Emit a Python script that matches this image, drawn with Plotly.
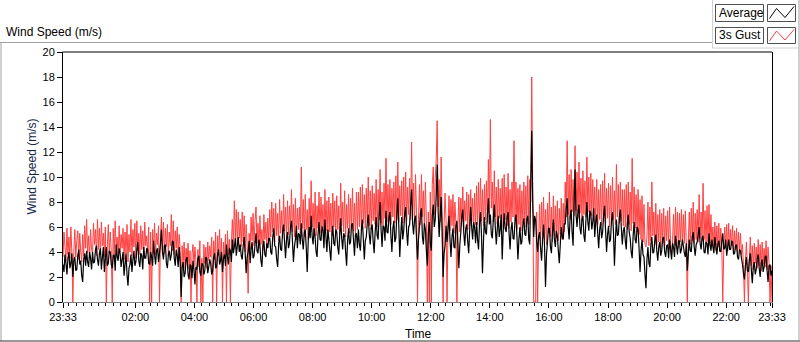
import plotly.graph_objects as go
import pandas as pd

# ---------------- data (2-minute samples, 23:33 -> 23:33 next day) ----------------
sample_start = "2015-06-01 23:33"
sample_step = "2min"

avg_speed = [
    3.0, 2.4, 3.8, 3.1, 2.2, 3.5, 4.0, 2.7, 3.1, 3.9, 2.0, 3.3, 3.6, 2.5, 2.6, 3.7, 4.2, 3.0, 3.3, 2.1, 1.6, 3.4, 3.9, 2.9, 4.1, 3.2, 2.8, 4.0, 3.5, 2.6,
    4.0, 3.1, 3.2, 4.2, 4.5, 3.4, 2.9, 3.9, 4.3, 2.6, 3.6, 4.4, 2.4, 3.5, 4.4, 2.9, 3.1, 4.1, 4.0, 3.0, 2.7, 3.7, 3.8, 2.5, 4.6, 3.6, 3.3, 4.3, 3.9, 2.8,
    3.4, 4.0, 2.1, 3.0, 3.9, 2.2, 1.3, 2.7, 3.0, 3.8, 2.4, 3.4, 4.1, 2.9, 3.2, 4.2, 4.8, 3.3, 2.8, 3.9, 3.7, 2.6, 4.4, 3.5, 3.5, 4.3, 4.2, 3.1, 3.0, 4.0,
    3.6, 2.9, 4.9, 3.8, 3.0, 4.1, 4.3, 3.2, 3.9, 4.7, 5.8, 4.0, 3.4, 4.5, 4.6, 3.1, 2.7, 3.8, 4.1, 3.3, 3.8, 4.9, 4.8, 3.5, 2.9, 4.2, 3.7, 2.8, 4.4, 3.2,
    0.4, 2.8, 3.2, 2.0, 2.3, 3.4, 3.6, 2.2, 1.8, 3.0, 2.9, 1.9, 3.3, 2.6, 1.4, 2.8, 2.6, 3.5, 3.7, 2.4, 2.1, 3.1, 3.0, 2.2, 2.5, 3.6, 3.5, 2.3, 2.8, 3.4,
    3.1, 2.2, 2.5, 3.6, 3.9, 2.7, 2.8, 3.8, 4.2, 3.0, 3.3, 4.0, 2.4, 3.5, 3.8, 2.9, 4.6, 3.6, 3.0, 4.3, 4.1, 3.2, 5.0, 3.9, 4.4, 5.1, 3.7, 4.5, 5.2, 4.0,
    4.6, 3.7, 3.4, 4.5, 5.2, 3.9, 2.3, 3.6, 4.0, 4.9, 3.1, 4.2, 4.8, 3.5, 3.7, 4.6, 5.5, 4.1, 3.9, 5.0, 4.5, 3.3, 2.8, 4.4, 4.9, 3.8, 3.6, 4.7, 4.3, 5.1,
    5.1, 4.0, 3.8, 5.2, 5.9, 4.5, 4.4, 3.4, 2.8, 4.6, 5.3, 4.2, 4.1, 5.6, 6.2, 4.8, 3.5, 5.0, 5.6, 4.3, 4.7, 6.0, 6.5, 4.9, 3.2, 4.4, 5.0, 6.1, 4.3, 5.5,
    5.4, 4.6, 6.3, 5.0, 4.2, 5.5, 5.8, 4.4, 2.4, 4.8, 6.0, 5.1, 6.9, 5.3, 4.6, 5.9, 5.2, 4.0, 3.6, 5.4, 6.4, 5.0, 4.9, 6.1, 5.7, 4.3, 6.6, 5.2, 4.0, 5.8,
    5.0, 4.1, 3.3, 5.2, 6.1, 4.7, 4.5, 5.8, 5.6, 4.4, 3.8, 5.3, 6.7, 5.1, 4.2, 5.5, 5.3, 4.0, 2.9, 4.9, 5.9, 4.6, 4.8, 6.2, 6.3, 5.0, 3.7, 5.4, 5.5, 4.3,
    5.8, 4.6, 4.1, 5.7, 6.6, 5.0, 3.4, 4.9, 5.2, 6.3, 7.0, 5.4, 4.6, 5.9, 6.2, 4.8, 3.9, 5.6, 6.8, 5.3, 5.0, 6.9, 8.0, 5.8, 4.4, 6.1, 6.0, 4.9, 7.3, 5.6,
    5.5, 6.8, 7.2, 5.3, 4.0, 5.9, 6.5, 4.8, 5.1, 7.0, 8.3, 6.1, 3.6, 5.4, 6.8, 5.0, 5.7, 7.1, 7.6, 5.6, 4.5, 6.0, 6.2, 7.8, 9.0, 6.3, 5.4, 6.6, 6.9, 5.1,
    3.4, 5.0, 6.0, 7.1, 7.5, 5.2, 4.6, 6.3, 5.8, 4.1, 2.9, 5.5, 6.4, 4.7, 4.1, 6.9, 7.8, 6.0, 6.6, 8.5, 11.0, 7.2, 5.2, 6.8, 8.4, 5.6, 2.0, 3.9, 4.5, 6.1,
    4.8, 5.9, 6.9, 5.0, 3.6, 5.2, 5.9, 4.4, 4.3, 6.1, 6.5, 4.7, 2.7, 4.6, 5.6, 6.8, 7.4, 5.5, 4.5, 5.9, 6.2, 4.8, 3.9, 5.8, 7.6, 6.0, 5.0, 6.4, 6.0, 4.7,
    6.4, 5.0, 4.2, 6.3, 7.2, 5.3, 2.3, 4.9, 6.8, 5.6, 5.4, 7.0, 8.3, 6.2, 7.0, 5.4, 5.1, 6.6, 7.8, 6.0, 4.6, 5.8, 6.9, 5.2, 5.8, 7.0, 3.4, 5.6, 7.1, 5.9,
    5.6, 6.8, 7.2, 5.5, 4.2, 5.8, 6.4, 5.1, 5.0, 6.5, 7.0, 5.2, 3.4, 5.0, 6.0, 4.6, 4.8, 6.2, 6.7, 5.4, 5.3, 6.6, 6.9, 5.0, 4.6, 9.5, 13.7, 8.0, 5.2, 6.9,
    6.5, 4.9, 4.0, 5.2, 5.6, 4.3, 3.3, 5.0, 6.2, 4.5, 1.2, 3.8, 4.8, 5.9, 5.9, 4.4, 3.9, 5.5, 6.6, 5.0, 4.4, 5.7, 5.3, 4.1, 3.1, 4.6, 6.0, 5.2, 5.0, 6.3,
    6.2, 7.5, 8.3, 6.0, 5.0, 6.8, 7.4, 5.6, 4.5, 7.9, 10.6, 7.0, 6.0, 7.2, 7.8, 5.9, 5.4, 6.6, 6.9, 5.3, 4.8, 6.5, 8.0, 6.4, 5.7, 7.3, 7.1, 5.8, 6.4, 7.5,
    5.2, 6.4, 7.0, 5.5, 4.3, 5.8, 6.4, 5.1, 5.6, 6.9, 7.7, 5.7, 4.0, 5.4, 6.1, 4.8, 5.0, 6.5, 7.2, 5.6, 2.9, 5.0, 6.6, 5.3, 5.4, 6.8, 7.4, 5.9, 4.6, 5.7,
    6.0, 4.9, 4.2, 6.1, 7.0, 5.6, 5.1, 4.0, 3.5, 5.3, 6.4, 5.0, 4.7, 6.0, 5.8, 4.3, 2.4, 4.1, 5.0, 3.8, 3.6, 2.2, 1.1, 3.4, 4.4, 3.1, 2.8, 4.6, 5.2, 3.9,
    4.0, 4.9, 5.4, 4.1, 3.3, 4.4, 4.8, 3.7, 4.1, 5.1, 5.2, 4.0, 3.6, 4.5, 4.6, 3.5, 5.0, 4.2, 3.4, 4.7, 4.4, 3.6, 5.3, 4.5, 3.8, 4.9, 4.9, 3.9, 4.2, 5.0,
    4.5, 3.9, 3.6, 4.7, 2.5, 3.8, 5.0, 4.1, 4.0, 5.2, 5.6, 4.4, 3.7, 4.6, 4.8, 5.4, 6.0, 4.7, 4.2, 5.1, 5.3, 4.0, 3.9, 4.8, 4.7, 3.8, 5.5, 4.6, 4.1, 5.0,
    4.4, 3.9, 5.2, 4.5, 3.8, 4.6, 4.9, 4.1, 4.0, 4.8, 5.5, 4.2, 4.3, 5.0, 3.7, 4.4, 5.0, 4.2, 4.2, 4.9, 4.8, 3.8, 3.9, 4.5, 4.6, 3.6, 3.4, 4.2, 4.1, 3.5,
    3.0, 2.3, 1.8, 2.9, 3.6, 2.5, 2.4, 3.4, 3.9, 2.6, 1.5, 2.8, 3.2, 2.2, 2.6, 3.5, 3.8, 2.7, 2.0, 3.1, 3.4, 2.4, 2.8, 3.6, 3.7, 2.5, 1.6, 2.9, 3.0, 2.1, 2.5,
]

gust_speed = [
    3.6, 5.6, 4.4, 3.3, 5.9, 3.8, 5.2, 3.5, 6.0, 3.9, 0.0, 4.1, 5.8, 3.6, 4.9, 5.7, 3.4, 5.5, 4.0, 3.2, 5.4, 3.7, 6.1, 4.3, 6.6, 3.9, 5.3, 3.5, 5.8, 4.2,
    3.9, 6.3, 4.6, 5.8, 3.7, 6.6, 4.2, 5.9, 3.8, 6.4, 4.5, 5.5, 3.6, 6.0, 0.0, 4.4, 6.2, 3.9, 5.6, 4.1, 0.0, 5.9, 3.8, 6.5, 4.3, 5.2, 3.5, 6.1, 4.0, 5.4,
    4.3, 5.9, 3.4, 5.6, 3.9, 6.2, 3.2, 5.4, 4.0, 6.6, 3.7, 5.8, 4.4, 6.3, 3.5, 6.5, 4.1, 5.5, 3.8, 6.1, 4.2, 5.7, 3.6, 6.4, 4.5, 5.3, 3.9, 6.0, 0.0, 5.6,
    0.0, 5.8, 4.2, 6.3, 3.8, 5.5, 4.6, 6.1, 0.0, 5.2, 6.8, 4.0, 6.4, 3.9, 5.9, 4.4, 6.2, 3.7, 5.6, 4.5, 7.0, 4.1, 6.5, 3.8, 5.7, 4.3, 6.0, 3.6, 5.4, 4.2,
    0.0, 4.5, 3.0, 4.8, 2.7, 4.3, 3.4, 4.7, 2.6, 4.1, 0.0, 3.8, 4.6, 2.9, 4.4, 3.2, 0.0, 4.2, 2.8, 4.9, 0.0, 3.5, 0.0, 4.6, 3.1, 4.4, 2.7, 4.8, 3.3, 4.5,
    3.6, 5.2, 0.0, 4.9, 3.4, 5.6, 0.0, 5.3, 3.7, 5.8, 3.3, 5.1, 0.0, 4.8, 3.5, 5.4, 0.0, 5.7, 3.8, 5.0, 0.0, 4.7, 6.6, 4.4, 8.1, 5.0, 7.4, 4.6, 7.2, 5.1,
    6.6, 4.4, 7.2, 4.8, 6.9, 4.0, 6.2, 4.6, 0.7, 5.5, 4.2, 6.8, 4.9, 7.1, 4.5, 6.5, 7.6, 4.7, 6.3, 4.3, 6.9, 4.6, 5.8, 4.1, 7.0, 5.0, 6.4, 4.4, 6.7, 4.8,
    7.4, 5.2, 8.0, 5.6, 7.5, 4.8, 7.9, 5.3, 7.1, 4.9, 8.2, 5.5, 7.3, 5.1, 8.6, 5.7, 7.6, 5.0, 8.1, 5.4, 7.7, 5.9, 9.0, 5.6, 7.8, 5.2, 8.3, 5.0, 7.5, 5.8,
    7.6, 5.5, 10.8, 5.9, 8.2, 5.2, 8.6, 5.8, 7.4, 5.0, 8.3, 5.6, 9.7, 6.0, 7.9, 5.4, 8.8, 5.3, 7.7, 5.9, 8.8, 5.5, 8.4, 6.1, 7.8, 5.2, 9.0, 5.7, 8.1, 5.5,
    8.4, 5.6, 7.9, 5.3, 8.7, 6.0, 8.1, 5.5, 8.5, 5.8, 7.7, 5.4, 9.5, 6.1, 8.0, 5.6, 8.9, 5.2, 7.8, 5.9, 8.6, 5.5, 8.3, 6.0, 9.1, 5.7, 7.9, 5.4, 8.8, 5.8,
    8.8, 6.0, 9.2, 5.7, 9.4, 6.3, 8.6, 5.9, 9.1, 6.4, 10.0, 6.1, 8.9, 5.8, 9.3, 6.5, 8.7, 6.2, 9.8, 6.0, 9.0, 6.6, 10.6, 6.3, 8.8, 6.1, 9.5, 6.7, 11.5, 6.4,
    9.4, 6.5, 9.8, 6.2, 9.1, 6.8, 9.6, 6.3, 10.1, 6.6, 11.2, 6.4, 9.3, 6.9, 9.7, 6.3, 10.0, 6.7, 10.4, 6.5, 9.2, 7.0, 9.9, 6.6, 12.8, 6.8, 9.5, 6.4, 10.2, 7.1,
    0.0, 6.6, 9.4, 6.2, 10.2, 6.8, 8.9, 6.0, 9.6, 6.5, 0.0, 7.2, 0.0, 8.8, 0.0, 9.4, 10.8, 7.0, 9.9, 11.3, 14.5, 7.6, 9.8, 6.4, 11.6, 7.0, 0.0, 6.3, 8.7, 6.5,
    0.0, 6.0, 8.5, 5.7, 8.2, 6.1, 8.6, 5.5, 8.0, 6.3, 0.0, 6.2, 8.4, 5.6, 8.3, 6.4, 9.2, 5.9, 8.1, 6.5, 8.8, 5.8, 8.6, 6.1, 9.0, 6.4, 8.3, 6.0, 8.7, 6.2,
    9.3, 6.2, 9.6, 6.0, 9.9, 6.5, 9.0, 6.1, 9.4, 6.6, 9.7, 6.3, 11.4, 7.0, 14.6, 7.5, 9.6, 6.4, 10.5, 6.8, 9.2, 6.2, 9.8, 6.7, 9.1, 6.3, 9.9, 6.0, 10.2, 6.6,
    9.2, 6.1, 10.3, 5.9, 9.0, 6.4, 9.6, 6.8, 12.9, 6.6, 9.6, 5.8, 9.1, 6.2, 9.4, 5.7, 8.9, 6.3, 9.6, 6.0, 9.3, 6.5, 10.1, 6.2, 9.8, 8.0, 18.0, 9.5, 0.0, 0.0,
    0.0, 7.2, 0.0, 5.0, 7.8, 4.9, 8.0, 5.4, 8.4, 5.0, 7.4, 4.6, 7.9, 5.5, 8.8, 5.2, 7.6, 4.8, 8.5, 5.3, 7.7, 5.1, 8.1, 4.9, 7.5, 5.4, 8.3, 5.0, 7.9, 5.6,
    9.6, 6.8, 12.9, 7.0, 10.2, 6.6, 10.6, 7.2, 9.8, 6.9, 12.5, 7.3, 10.4, 6.7, 11.2, 7.1, 9.9, 6.5, 10.5, 7.0, 9.7, 6.8, 11.6, 7.2, 10.0, 6.6, 10.3, 6.9, 9.8, 7.1,
    9.2, 6.4, 9.8, 6.2, 9.0, 6.6, 9.4, 6.1, 9.7, 6.5, 10.3, 6.3, 9.1, 6.7, 9.5, 6.0, 9.3, 6.4, 10.0, 6.6, 8.9, 6.2, 11.0, 6.8, 9.4, 6.3, 9.6, 6.5, 9.0, 6.1,
    9.0, 6.0, 9.4, 5.8, 9.6, 6.2, 8.8, 5.7, 11.5, 6.3, 9.2, 5.9, 8.6, 5.6, 9.0, 5.4, 8.2, 5.0, 8.5, 4.8, 7.8, 4.6, 4.4, 5.2, 8.0, 4.5, 7.6, 4.9, 9.6, 5.3,
    7.2, 4.6, 7.9, 4.5, 7.0, 4.8, 7.4, 4.3, 7.1, 4.7, 7.5, 4.5, 6.9, 4.9, 7.3, 4.4, 7.6, 4.6, 3.6, 4.8, 7.0, 4.5, 7.6, 4.7, 7.2, 4.3, 7.1, 4.8, 7.4, 4.6,
    7.0, 4.7, 7.3, 4.5, 0.0, 4.8, 7.2, 4.6, 7.5, 4.9, 8.0, 4.7, 7.1, 5.0, 7.4, 4.8, 8.6, 5.1, 7.2, 4.9, 9.5, 5.0, 7.3, 4.6, 7.7, 4.8, 7.8, 4.5, 7.0, 4.7,
    6.0, 4.3, 6.4, 4.1, 6.1, 4.4, 6.3, 4.0, 5.9, 4.5, 0.0, 4.2, 6.0, 4.4, 6.2, 4.1, 6.3, 4.3, 5.8, 4.5, 6.1, 4.0, 5.7, 4.2, 5.9, 3.9, 5.6, 4.1, 5.5, 3.8,
    4.6, 3.0, 0.0, 3.2, 4.8, 2.8, 0.0, 3.3, 5.2, 2.9, 4.5, 2.6, 4.7, 3.1, 4.4, 2.7, 5.0, 2.9, 4.6, 2.5, 4.8, 3.0, 4.3, 2.8, 4.9, 2.6, 4.4, 3.1, 0.0, 2.9, 0.0,
]

tick_times = ["2015-06-01 23:33", "2015-06-02 02:00", "2015-06-02 04:00", "2015-06-02 06:00",
              "2015-06-02 08:00", "2015-06-02 10:00", "2015-06-02 12:00", "2015-06-02 14:00",
              "2015-06-02 16:00", "2015-06-02 18:00", "2015-06-02 20:00", "2015-06-02 22:00",
              "2015-06-02 23:33"]
tick_labels = ["23:33", "02:00", "04:00", "06:00", "08:00", "10:00", "12:00", "14:00",
               "16:00", "18:00", "20:00", "22:00", "23:33"]
y_ticks = [0, 2, 4, 6, 8, 10, 12, 14, 16, 18, 20]
series_names = ["Average", "3s Gust"]

avg_times = pd.date_range(sample_start, periods=len(avg_speed), freq=sample_step)
gust_times = pd.date_range(sample_start, periods=len(gust_speed), freq=sample_step)

# ---------------- layout geometry (pixels) ----------------
W, H = 800, 342
PL, PR, PT, PB = 63, 772, 52, 302   # plot area in pixels


def fx(px):
    return (px - PL) / (PR - PL)


def fy(py):
    return (PB - py) / (PB - PT)


GUST_RED = "#ff4040"

fig = go.Figure()
fig.add_trace(go.Scatter(x=gust_times, y=gust_speed, mode="lines", name=series_names[1],
                         line=dict(color=GUST_RED, width=1, simplify=False),
                         showlegend=False, hoverinfo="skip"))
fig.add_trace(go.Scatter(x=avg_times, y=avg_speed, mode="lines", name=series_names[0],
                         line=dict(color="black", width=1.2, simplify=False),
                         showlegend=False, hoverinfo="skip"))

shapes = []


def pline(x0, y0, x1, y1, color, width=1):
    shapes.append(dict(type="line", xref="paper", yref="paper",
                       x0=fx(x0), y0=fy(y0), x1=fx(x1), y1=fy(y1),
                       line=dict(color=color, width=width), layer="above"))


def prect(x0, y0, x1, y1, color, fill="white"):
    shapes.append(dict(type="rect", xref="paper", yref="paper",
                       x0=fx(x0), y0=fy(y0), x1=fx(x1), y1=fy(y1),
                       line=dict(color=color, width=1), fillcolor=fill, layer="above"))


def ppath(pts, color):
    d = "M " + " L ".join(f"{fx(a):.5f},{fy(b):.5f}" for a, b in pts)
    shapes.append(dict(type="path", xref="paper", yref="paper", path=d,
                       line=dict(color=color, width=1), layer="above"))


# outer panel frame
pline(0, 42.5, 712.5, 42.5, "#a0a0a0")
pline(1, 42, 1, 341, "#a0a0a0")
pline(0, 341, 800, 341, "#303030")
pline(799, 0, 799, 341, "#a0a0a0")
pline(712.5, 0, 712.5, 48, "#d0d0d0")
pline(712.5, 48, 799, 48, "#d0d0d0")
# plot top border
pline(62.5, 52, 772, 52, "black")

# legend
prect(715.5, 4.5, 763.5, 21.5, "#505050")
prect(767.5, 4.5, 795.5, 21.5, "#505050")
prect(715.5, 27.5, 763.5, 43.5, "#505050")
prect(767.5, 27.5, 795.5, 43.5, "#505050")
ppath([(769.5, 18.5), (776.5, 8.5), (785, 17.5), (794, 6.5)], "black")
ppath([(769.5, 41), (776.5, 31), (785, 40), (794, 29.5)], GUST_RED)

annotations = [
    dict(text="Wind Speed (m/s)", x=fx(4), y=fy(32.5), xanchor="left", yanchor="middle",
         font=dict(size=12, color="black")),
    dict(text="Wind Speed (m/s)", x=fx(31.5), y=fy(167), xanchor="center", yanchor="middle",
         textangle=-90, font=dict(size=12, color="#15264a")),
    dict(text="Time", x=fx(403), y=fy(334), xanchor="left", yanchor="middle",
         font=dict(size=12, color="black")),
    dict(text=series_names[0], x=fx(717), y=fy(13), xanchor="left", yanchor="middle",
         font=dict(size=12, color="black")),
    dict(text=series_names[1], x=fx(717), y=fy(35.5), xanchor="left", yanchor="middle",
         font=dict(size=12, color="black")),
]
for a in annotations:
    a.update(xref="paper", yref="paper", showarrow=False)

fig.update_layout(
    width=W, height=H,
    margin=dict(l=PL, r=W - PR, t=PT, b=H - PB, pad=0),
    paper_bgcolor="white", plot_bgcolor="white",
    font=dict(family="Liberation Sans", size=11, color="black"),
    shapes=shapes, annotations=annotations, showlegend=False,
)
fig.update_xaxes(
    type="date", range=[tick_times[0], tick_times[-1]],
    tickvals=tick_times, ticktext=tick_labels,
    ticks="outside", ticklen=5, tickcolor="black", tickwidth=1,
    showline=True, linecolor="#808080", linewidth=1,
    showgrid=False, zeroline=False,
    tickfont=dict(size=11, color="black"),
    minor=dict(ticks="outside", ticklen=3, tickcolor="black", tickwidth=1,
               dtick=15 * 60 * 1000, tick0="2015-06-02 00:00", showgrid=False),
)
fig.update_yaxes(
    range=[0, 20], tickvals=y_ticks,
    ticks="outside", ticklen=5, tickcolor="black", tickwidth=1,
    showline=True, linecolor="black", linewidth=1, mirror=True,
    showgrid=False, zeroline=False,
    tickfont=dict(size=11, color="black"),
)

fig.write_html(
    "out.html",
    config={"displayModeBar": False},
    post_script="document.body.style.margin='0';document.body.style.padding='0';"
                "document.body.style.overflow='hidden';",
)
